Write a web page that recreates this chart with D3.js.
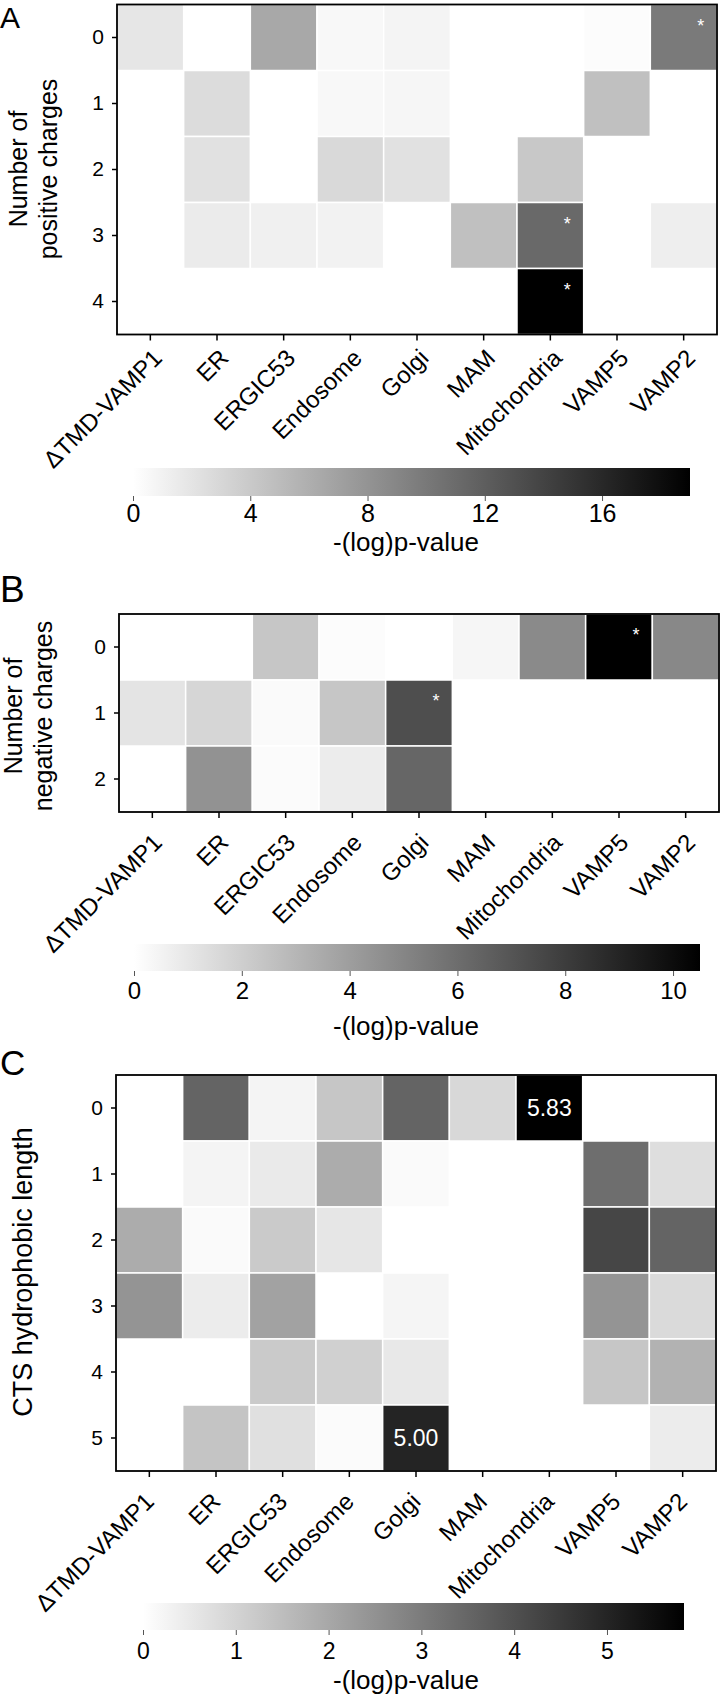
<!DOCTYPE html>
<html><head><meta charset="utf-8">
<script src="https://cdn.jsdelivr.net/npm/d3@7"></script>
<style>body{margin:0;background:#fff}svg{display:block}text{font-family:"Liberation Sans",Arial,sans-serif}</style>
</head><body><div id="chart"></div>
<script>
// ---------- DATA ----------
const categories = ["ΔTMD-VAMP1","ER","ERGIC53","Endosome","Golgi","MAM","Mitochondria","VAMP5","VAMP2"];

// Panel A: number of positive charges (null = no cell)
const rowsA = ["0","1","2","3","4"];
const valuesA = [
  [1.9, null, 6.5, 0.5, 0.8, null, null, 0.2, 9.9],
  [null, 2.6, null, 0.5, 0.7, null, null, 4.7, null],
  [null, 2.2, null, 2.8, 2.2, null, 4.1, null, null],
  [null, 1.5, 1.1, 0.97, null, 4.7, 11.2, null, 1.3],
  [null, null, null, null, null, null, 19, null, null]
];
const starsA = [["0","VAMP2"],["3","Mitochondria"],["4","Mitochondria"]];
const maxA = 19;
const ticksA = [0,4,8,12,16];

// Panel B: number of negative charges
const rowsB = ["0","1","2"];
const valuesB = [
  [null, null, 2.35, 0.12, null, 0.37, 4.82, 10.5, 4.9],
  [1.11, 1.69, 0.2, 2.35, 7.29, null, null, null, null],
  [null, 4.49, 0.16, 0.78, 6.3, null, null, null, null]
];
const starsB = [["0","VAMP5"],["1","Golgi"]];
const maxB = 10.5;
const ticksB = [0,2,4,6,8,10];

// Panel C: CTS hydrophobic length
const rowsC = ["0","1","2","3","4","5"];
const valuesC = [
  [null, 3.54, 0.25, 1.30, 3.54, 0.89, 5.83, null, null],
  [null, 0.25, 0.48, 1.90, 0.11, null, null, 3.32, 0.75],
  [1.90, 0.11, 1.21, 0.57, null, null, null, 4.23, 3.54],
  [2.45, 0.43, 2.13, null, 0.23, null, null, 2.45, 0.85],
  [null, null, 1.21, 1.07, 0.53, null, null, 1.30, 1.76],
  [null, 1.35, 0.71, 0.09, 5.00, null, null, null, 0.43]
];
const labelsC = [["0","Mitochondria","5.83"],["5","Golgi","5.00"]];
const maxC = 5.83;
const ticksC = [0,1,2,3,4,5];

const cbTitle = "-(log)p-value";

// ---------- DRAW ----------
const svg = d3.select("#chart").append("svg").attr("width",721).attr("height",1695);
const defs = svg.append("defs");

function panel(o){
  const g = svg.append("g");
  const x = d3.scaleBand().domain(categories).range([o.x0, o.x0 + 600]);
  const y = d3.scaleBand().domain(o.rows).range([o.y0, o.y0 + o.rows.length*66]);
  const color = d3.scaleLinear().domain([0,o.max]).range(["#ffffff","#000000"]);
  const cells = [];
  o.values.forEach((row,i)=>row.forEach((v,j)=>{ if(v!==null) cells.push({r:o.rows[i],c:categories[j],v}); }));
  g.selectAll("rect.cell").data(cells).join("rect").attr("class","cell")
    .attr("x",d=>x(d.c)).attr("y",d=>y(d.r))
    .attr("width",x.bandwidth()).attr("height",y.bandwidth())
    .attr("fill",d=>color(d.v)).attr("stroke","#fff").attr("stroke-width",1.5);
  // stars
  g.selectAll("text.star").data(o.stars||[]).join("text").attr("class","star")
    .attr("x",d=>x(d[1])+x.bandwidth()/2+17).attr("y",d=>y(d[0])+27)
    .attr("text-anchor","middle").attr("fill","#fff").attr("font-size",18).text("*");
  // value labels
  g.selectAll("text.val").data(o.labels||[]).join("text").attr("class","val")
    .attr("x",d=>x(d[1])+x.bandwidth()/2).attr("y",d=>y(d[0])+y.bandwidth()/2)
    .attr("dy","0.36em").attr("text-anchor","middle").attr("fill","#fff").attr("font-size",23).text(d=>d[2]);
  // frame
  const yb = o.y0 + o.rows.length*66;
  g.append("rect").attr("x",o.x0).attr("y",o.y0).attr("width",600).attr("height",yb-o.y0)
    .attr("fill","none").attr("stroke","#000").attr("stroke-width",1.8);
  // axes
  const ax = g.append("g").attr("transform",`translate(0,${yb})`).call(d3.axisBottom(x).tickSize(6).tickSizeOuter(0));
  ax.select(".domain").remove();
  ax.selectAll("line").attr("stroke","#000").attr("stroke-width",1.5);
  ax.selectAll("text").attr("x",0).attr("y",0).attr("dy","0.71em").attr("text-anchor","end")
    .attr("font-size",24).attr("fill","#000")
    .attr("transform",`translate(${o.lx},${o.ly}) rotate(-45)`);
  const ay = g.append("g").attr("transform",`translate(${o.x0},0)`).call(d3.axisLeft(y).tickSize(5).tickPadding(8).tickSizeOuter(0));
  ay.select(".domain").remove();
  ay.selectAll("line").attr("stroke","#000").attr("stroke-width",1.5);
  ay.selectAll("text").attr("font-size",21).attr("fill","#000");
  // y title
  const cy = o.titleCy;
  o.ytitle.forEach((t,i)=>{
    g.append("text").attr("transform",`translate(${o.titleX[i]},${cy}) rotate(-90)`)
      .attr("text-anchor","middle").attr("font-size",o.titleSize).text(t);
  });
  // panel letter
  g.append("text").attr("x",0).attr("y",o.letterY).attr("font-size",o.letterSize).text(o.letter);
  // colorbar
  const gid = "grad"+o.letter;
  const gr = defs.append("linearGradient").attr("id",gid).attr("x1","0%").attr("x2","100%");
  gr.append("stop").attr("offset","0%").attr("stop-color",color(0));
  gr.append("stop").attr("offset","100%").attr("stop-color",color(o.max));
  const cs = d3.scaleLinear().domain([0,o.max]).range([o.cb[0],o.cb[1]]);
  g.append("rect").attr("x",o.cb[0]).attr("y",o.cb[2]).attr("width",o.cb[1]-o.cb[0]).attr("height",o.cb[3]-o.cb[2])
    .attr("fill",`url(#${gid})`);
  const ac = g.append("g").attr("transform",`translate(0,${o.cb[3]})`)
    .call(d3.axisBottom(cs).tickValues(o.ticks).tickSize(5).tickFormat(d3.format("d")));
  ac.select(".domain").remove();
  ac.selectAll("line").attr("stroke","#555").attr("stroke-width",1);
  ac.selectAll("text").attr("y",o.cbLabelOff).attr("dy",0).attr("font-size",o.cbTickSize).attr("fill","#000");
  g.append("text").attr("x",406).attr("y",o.cbTitleY).attr("text-anchor","middle").attr("font-size",26).text(cbTitle);
}

panel({letter:"A",letterY:28,letterSize:30,x0:117,y0:4.5,rows:rowsA,values:valuesA,max:maxA,stars:starsA,
  lx:1,ly:13,ytitle:["Number of","positive charges"],titleX:[27,57],titleCy:169,titleSize:25,
  cb:[133,690,468,496],ticks:ticksA,cbLabelOff:26,cbTickSize:25,cbTitleY:551});
panel({letter:"B",letterY:602,letterSize:37,x0:119,y0:614,rows:rowsB,values:valuesB,max:maxB,stars:starsB,
  lx:-1,ly:20,ytitle:["Number of","negative charges"],titleX:[22,52],titleCy:716,titleSize:25,
  cb:[134,700,944,971],ticks:ticksB,cbLabelOff:28,cbTickSize:24,cbTitleY:1035});
panel({letter:"C",letterY:1075,letterSize:35,x0:116,y0:1075,rows:rowsC,values:valuesC,max:maxC,labels:labelsC,
  lx:-6,ly:20,ytitle:["CTS hydrophobic length"],titleX:[32],titleCy:1272,titleSize:27,
  cb:[143,684,1603,1630],ticks:ticksC,cbLabelOff:29,cbTickSize:23,cbTitleY:1689});
</script></body></html>
